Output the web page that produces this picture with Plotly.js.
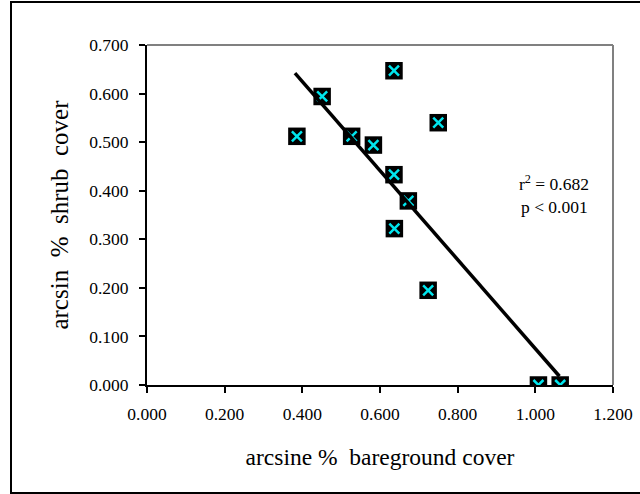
<!DOCTYPE html>
<html>
<head>
<meta charset="utf-8">
<script src="https://cdn.plot.ly/plotly-3.0.1.min.js"></script>
<style>
  html, body { margin: 0; padding: 0; background: #fff; }
  #wrap { position: relative; width: 640px; height: 494px; overflow: hidden; }
  #chart { position: absolute; left: 0; top: 0; width: 640px; height: 494px; }
  #frame { position: absolute; left: 10px; top: 1px; width: 640px; height: 489px;
           border: 2px solid #000; box-sizing: content-box; pointer-events: none; }
</style>
</head>
<body>
<div id="wrap">
  <div id="chart"></div>
  <div id="frame"></div>
</div>
<script>
// Observed data: arcsine % bareground cover vs arcsin % shrub cover
const bareground = [0.636, 0.451, 0.386, 0.527, 0.583, 0.750, 0.636, 0.673, 0.637, 0.724, 1.008, 1.064];
const shrub      = [0.647, 0.594, 0.512, 0.512, 0.494, 0.540, 0.433, 0.379, 0.322, 0.195, 0.000, 0.000];

// Fitted regression line endpoints
const fitX = [0.381, 1.062];
const fitY = [0.642, 0.018];

const xTicks = [0, 0.2, 0.4, 0.6, 0.8, 1.0, 1.2];
const yTicks = [0, 0.1, 0.2, 0.3, 0.4, 0.5, 0.6, 0.7];
const statText = ['r<sup>2</sup> = 0.682', 'p < 0.001'];

const FONT = '"Liberation Serif", "Times New Roman", serif';

const traces = [
  { x: bareground, y: shrub, type: 'scatter', mode: 'markers', hoverinfo: 'skip',
    marker: { symbol: 'square', size: 17.5, color: '#000000', line: { width: 0 } } },
  { x: bareground, y: shrub, type: 'scatter', mode: 'markers', hoverinfo: 'skip',
    marker: { symbol: 'x-thin-open', size: 10, color: '#00e5ee', line: { width: 2.5, color: '#00e5ee' } } },
  { x: fitX, y: fitY, type: 'scatter', mode: 'lines', hoverinfo: 'skip',
    line: { color: '#000000', width: 3.5 } }
];

const layout = {
  width: 640, height: 494,
  margin: { l: 147, r: 27, t: 45, b: 109 },
  paper_bgcolor: '#ffffff', plot_bgcolor: '#ffffff',
  showlegend: false,
  font: { family: FONT, size: 17.5, color: '#000' },
  xaxis: {
    range: [0, 1.2], tickvals: xTicks, tickformat: '.3f',
    ticks: 'outside', ticklen: 6, tickwidth: 2, tickcolor: '#000',
    ticklabelstandoff: 6,
    showline: true, linecolor: '#000', linewidth: 2,
    showgrid: false, zeroline: false,
    tickfont: { family: FONT, size: 17.5, color: '#000' },
    title: { text: 'arcsine %  bareground cover', font: { family: FONT, size: 23.5, color: '#000' }, standoff: 26 }
  },
  yaxis: {
    range: [0, 0.7], tickvals: yTicks, tickformat: '.3f',
    ticks: 'outside', ticklen: 6, tickwidth: 2, tickcolor: '#000',
    ticklabelstandoff: 7,
    showline: true, linecolor: '#000', linewidth: 2,
    showgrid: false, zeroline: false,
    tickfont: { family: FONT, size: 17.5, color: '#000' },
    title: { text: 'arcsin  %  shrub  cover', font: { family: FONT, size: 25, color: '#000' }, standoff: 13 }
  },
  shapes: [
    { type: 'line', xref: 'paper', yref: 'paper', x0: 0, x1: 1, y0: 1, y1: 1, line: { color: '#808080', width: 2 } },
    { type: 'line', xref: 'paper', yref: 'paper', x0: 1, x1: 1, y0: 0, y1: 1, line: { color: '#808080', width: 2 } }
  ],
  annotations: [
    { xref: 'paper', yref: 'paper', x: 0.874, y: 0.595, text: statText[0], showarrow: false,
      font: { family: FONT, size: 17.5, color: '#000' }, xanchor: 'center', yanchor: 'middle' },
    { xref: 'paper', yref: 'paper', x: 0.874, y: 0.525, text: statText[1], showarrow: false,
      font: { family: FONT, size: 17.5, color: '#000' }, xanchor: 'center', yanchor: 'middle' }
  ]
};

Plotly.newPlot('chart', traces, layout, { displayModeBar: false, staticPlot: true });
</script>
</body>
</html>
